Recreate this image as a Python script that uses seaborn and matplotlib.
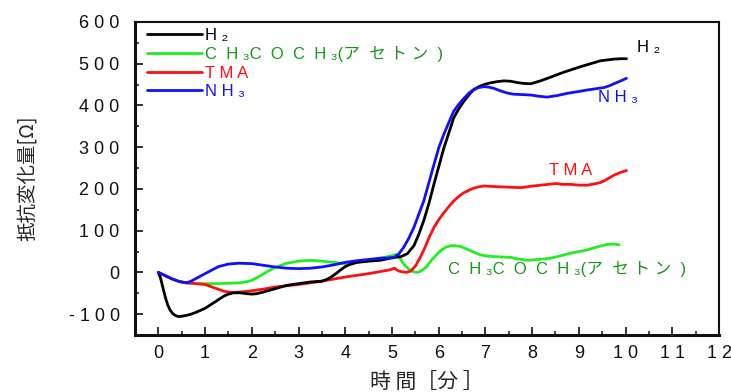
import matplotlib
matplotlib.use("Agg")
import matplotlib.pyplot as plt
from matplotlib.lines import Line2D
import seaborn as sns
import pandas as pd

# ---- data ----
h2_x = [0, 0.05, 0.1, 0.15, 0.2, 0.25, 0.3, 0.36, 0.43, 0.5, 0.6, 0.7, 0.8, 0.9, 1.0, 1.125, 1.25, 1.4,
        1.5, 1.6, 1.75, 1.9, 2.0, 2.1, 2.25, 2.5, 2.75, 3.0, 3.25, 3.5, 3.6, 3.7, 3.8, 3.9, 4.0, 4.1,
        4.25, 4.5, 4.75, 5.0, 5.2, 5.33, 5.47, 5.57, 5.68, 5.79, 5.9, 6.0, 6.11, 6.22, 6.32, 6.43,
        6.54, 6.65, 6.75, 6.86, 6.97, 7.1, 7.25, 7.4, 7.54, 7.68, 7.8, 7.97, 8.18, 8.4, 8.61, 8.82, 9.04,
        9.25, 9.46, 9.6, 9.75, 9.9, 10.02]
h2_y = [0, -15, -38, -60, -78, -90, -98, -103, -106, -105, -103, -100, -96, -91, -86, -77, -68, -57,
        -52, -49, -49, -51, -52, -51, -47, -39, -31, -27, -23, -21, -17, -11, -3, 6, 14, 19,
        24, 27, 29, 35, 38, 45, 64, 90, 124, 165, 212, 253, 298, 335, 370, 392,
        410, 426, 438, 445, 450, 454, 457, 459, 458, 455, 453, 452, 459, 468, 477, 485, 493,
        500, 507, 509, 511, 512, 512]

nh3_x = [0, 0.15, 0.3, 0.45, 0.6, 0.7, 0.8, 0.9, 1.0, 1.15, 1.29, 1.5, 1.72, 2.0, 2.25, 2.5, 2.75, 3.0,
         3.25, 3.5, 3.75, 4.0, 4.25, 4.5, 4.75, 5.04, 5.15, 5.25, 5.36, 5.47, 5.57, 5.68, 5.79, 5.9,
         6.0, 6.11, 6.22, 6.32, 6.43, 6.54, 6.65, 6.75, 6.86, 6.97, 7.07, 7.18, 7.32, 7.46, 7.6, 7.8,
         7.97, 8.15, 8.32, 8.55, 8.75, 8.97, 9.18, 9.36, 9.54, 9.65, 9.75, 9.9, 10.02]
nh3_y = [0, -8, -16, -22, -25, -21, -15, -9, -3, 6, 14, 20, 22, 21, 17, 13, 10, 9,
         10, 13, 18, 24, 28, 31, 34, 35, 45, 60, 82, 108, 138, 171, 215, 259,
         298, 331, 360, 386, 403, 417, 430, 438, 443, 445, 444, 441, 435, 430, 427, 426,
         425, 422, 420, 424, 429, 433, 437, 440, 443, 447, 452, 459, 465]

tma_x = [0, 0.15, 0.3, 0.45, 0.6, 0.8, 1.0, 1.25, 1.4, 1.5, 1.6, 1.75, 2.0, 2.25, 2.5, 2.75, 3.0, 3.25,
         3.5, 3.75, 4.0, 4.25, 4.5, 4.75, 4.95, 5.05, 5.15, 5.3, 5.4, 5.5, 5.6, 5.7, 5.8, 5.9, 6.0, 6.11,
         6.22, 6.32, 6.43, 6.54, 6.65, 6.75, 6.86, 6.97, 7.15, 7.32, 7.55, 7.75, 7.95, 8.18, 8.35, 8.5,
         8.65, 8.82, 9.0, 9.18, 9.32, 9.46, 9.6, 9.75, 9.9, 10.02]
tma_y = [0, -8, -16, -22, -25, -27, -29, -39, -45, -47, -48, -47, -44, -40, -35, -32, -29, -25,
         -21, -16, -11, -7, -3, 2, 6, 10, 3, 0, 3, 15, 35, 58, 85, 108, 126, 143,
         158, 171, 182, 191, 197, 202, 205, 207, 206, 205, 204, 203, 206, 209, 211, 213,
         211, 211, 209, 209, 212, 215, 223, 233, 240, 244]

ace_x = [0, 0.15, 0.3, 0.45, 0.6, 0.8, 1.0, 1.25, 1.5, 1.75, 1.9, 2.0, 2.15, 2.3, 2.5, 2.75, 3.0, 3.25,
         3.5, 3.75, 4.0, 4.25, 4.5, 4.75, 5.0, 5.08, 5.15, 5.25, 5.36, 5.47, 5.55, 5.65, 5.75, 5.85,
         5.95, 6.05, 6.15, 6.25, 6.35, 6.47, 6.58, 6.68, 6.8, 6.9, 7.05, 7.18, 7.32, 7.54, 7.7, 7.9,
         8.15, 8.39, 8.55, 8.75, 8.95, 9.11, 9.3, 9.46, 9.6, 9.75, 9.86]
ace_y = [0, -8, -16, -22, -25, -27, -27, -27, -26, -25, -22, -19, -10, 0, 12, 22, 27, 29,
         27, 24, 21, 24, 28, 34, 40, 43, 38, 20, 8, 1, 0, 5, 15, 30,
         42, 53, 60, 64, 64, 62, 57, 52, 46, 42, 39, 38, 37, 36, 32, 29,
         31, 34, 38, 44, 49, 52, 58, 63, 67, 68, 66]

series_names = ["H₂", "CH₃COCH₃", "TMA", "NH₃"]
line_colors = ["#000000", "#22ee22", "#ff1010", "#1010ff"]
text_colors = ["#000000", "#159915", "#ff1010", "#1010ff"]
legend_labels = ["H ₂", "C  H ₃C  O  C  H ₃(ア  セ ト ン  )", "T M A", "N H ₃"]
end_labels = ["H ₂", "C  H ₃C  O  C  H ₃(ア  セ ト ン  )", "T M A", "N H ₃"]

yticks = [-100, 0, 100, 200, 300, 400, 500, 600]
ytick_labels = ["- 1 0 0", "0", "1 0 0", "2 0 0", "3 0 0", "4 0 0", "5 0 0", "6 0 0"]
xticks = list(range(0, 13))
xtick_labels = ["0", "1", "2", "3", "4", "5", "6", "7", "8", "9", "1 0", "1 1", "1 2"]

# ---- build table ----
frames = []
for name, xs, ys in zip(series_names, [h2_x, ace_x, tma_x, nh3_x], [h2_y, ace_y, tma_y, nh3_y]):
    frames.append(pd.DataFrame({"t": xs, "r": ys, "gas": name}))
df = pd.concat(frames, ignore_index=True)

sns.set_theme(style="white")
fam = ["Liberation Sans", "Noto Sans CJK JP", "DejaVu Sans"]
plt.rcParams["font.family"] = fam

fig = plt.figure(figsize=(7.31, 3.92), dpi=100)
ax = fig.add_axes([0.1847, 0.1454, 0.9836 - 0.1847, 0.9439 - 0.1454])

draw_order = ["CH₃COCH₃", "TMA", "H₂", "NH₃"]
pal = dict(zip(series_names, line_colors))
sns.lineplot(data=df, x="t", y="r", hue="gas", hue_order=draw_order, palette=pal,
             sort=False, estimator=None, units="gas", linewidth=2.0, legend=False, ax=ax)
for ln in ax.get_lines():
    ln.set_solid_joinstyle("round")
    ln.set_solid_capstyle("round")

ax.set_xlim(-0.5, 12)
ax.set_ylim(-150, 600)
ax.set_xticks(xticks)
ax.set_xticklabels(xtick_labels)
ax.set_yticks(yticks)
ax.set_yticklabels(ytick_labels)
ax.set_xticks([i + 0.5 for i in range(-1, 12)], minor=True)
ax.set_yticks([-50 + 100 * i for i in range(0, 7)], minor=True)
ax.tick_params(axis="both", which="major", direction="in", length=6, width=1.2,
               labelsize=13, colors="#111111", left=True, bottom=True)
ax.tick_params(axis="both", which="minor", direction="in", length=3, width=1.2, left=True, bottom=True)
ax.tick_params(axis="x", pad=7)
ax.tick_params(axis="y", pad=11)

for side, sp in ax.spines.items():
    sp.set_visible(True)
    sp.set_color("#111111")
    sp.set_linewidth(1.5)
ax.spines["left"].set_linewidth(2.2)
ax.spines["bottom"].set_linewidth(2.2)

ax.set_xlabel("時 間［分 ］", fontsize=15, labelpad=7, family=["Noto Sans CJK JP", "DejaVu Sans"])
ax.set_ylabel("抵抗変化量[Ω]", fontsize=14, labelpad=22, family=["Noto Sans CJK JP", "DejaVu Sans"])

# legend
handles = [Line2D([0], [0], color=c, lw=2.0) for c in line_colors]
leg = ax.legend(handles, legend_labels, loc="upper left", bbox_to_anchor=(0.0137, 0.995),
                frameon=False, handlelength=3.3, handletextpad=0.15, labelspacing=0.21,
                fontsize=12, borderaxespad=0.0, borderpad=0.25)
for t, c in zip(leg.get_texts(), text_colors):
    t.set_color(c)

# end labels
ax.text(10.24, 538, end_labels[0], color=text_colors[0], fontsize=12, va="center", ha="left")
ax.text(9.4, 418, end_labels[3], color=text_colors[3], fontsize=12, va="center", ha="left")
ax.text(8.37, 244, end_labels[2], color=text_colors[2], fontsize=12, va="center", ha="left")
ax.text(6.19, 7, end_labels[1], color=text_colors[1], fontsize=12, va="center", ha="left")

fig.savefig("out.png", dpi=100)
